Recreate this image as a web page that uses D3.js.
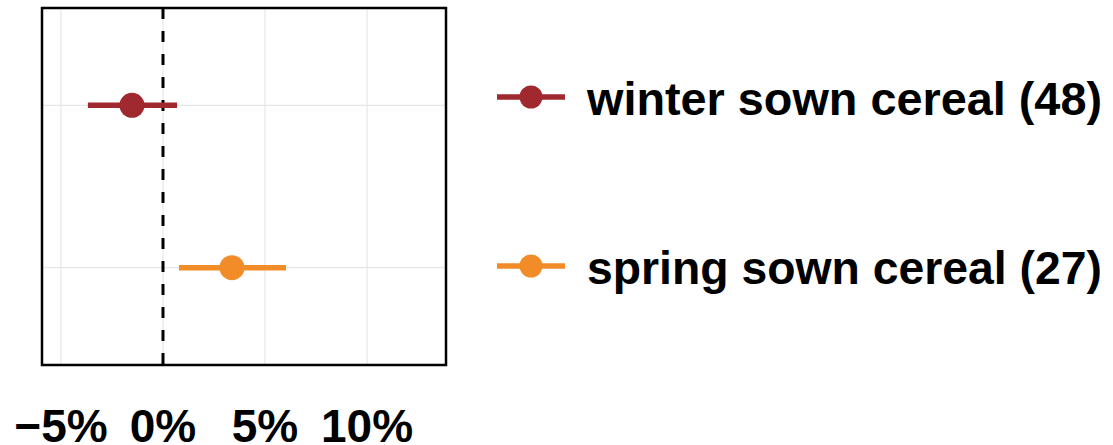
<!DOCTYPE html>
<html>
<head>
<meta charset="utf-8">
<script src="https://cdn.jsdelivr.net/npm/d3@7"></script>
<style>
  html, body { margin: 0; padding: 0; background: #ffffff; }
  svg { display: block; }
  text { font-family: "Liberation Sans", Arial, sans-serif; font-weight: bold; fill: #000; }
</style>
</head>
<body>
<svg id="chart" width="1113" height="445"></svg>
<script>
// Crop groups with sample counts
const categories = ["winter sown cereal", "spring sown cereal"];
const counts = [48, 27];
// Effect estimate and interval bounds (percent change)
const estimates = [-1.52, 3.38];
const lower = [-3.68, 0.78];
const upper = [0.69, 6.03];
const colors = ["#a0282f", "#f28c28"];
const xTicks = [-5, 0, 5, 10];

const svg = d3.select("#chart");
const panel = { left: 42, right: 446, top: 8, bottom: 365 };

const x = d3.scaleLinear().domain([-5.93, 13.87]).range([panel.left, panel.right]);
const y = d3.scalePoint().domain(categories).range([panel.top, panel.bottom]).padding(0.6);

// grid
const grid = svg.append("g");
grid.selectAll("line.v").data(xTicks).join("line")
  .attr("x1", d => x(d)).attr("x2", d => x(d))
  .attr("y1", panel.top).attr("y2", panel.bottom)
  .attr("stroke", "#e6e6e6").attr("stroke-width", 1.2);
grid.selectAll("line.h").data(categories).join("line")
  .attr("x1", panel.left).attr("x2", panel.right)
  .attr("y1", d => y(d)).attr("y2", d => y(d))
  .attr("stroke", "#e6e6e6").attr("stroke-width", 1.2);

// reference line at zero
svg.append("line")
  .attr("x1", x(0)).attr("x2", x(0))
  .attr("y1", panel.top).attr("y2", panel.bottom)
  .attr("stroke", "#000").attr("stroke-width", 3)
  .attr("stroke-dasharray", "11,12");

// intervals and points
const rows = categories.map((c, i) => ({ c, est: estimates[i], lo: lower[i], hi: upper[i], col: colors[i], n: counts[i] }));
const marks = svg.append("g");
marks.selectAll("line").data(rows).join("line")
  .attr("x1", d => x(d.lo)).attr("x2", d => x(d.hi))
  .attr("y1", d => y(d.c)).attr("y2", d => y(d.c))
  .attr("stroke", d => d.col).attr("stroke-width", 5.5);
marks.selectAll("circle").data(rows).join("circle")
  .attr("cx", d => x(d.est)).attr("cy", d => y(d.c))
  .attr("r", 12.5).attr("fill", d => d.col);

// panel border
svg.append("rect")
  .attr("x", panel.left).attr("y", panel.top)
  .attr("width", panel.right - panel.left).attr("height", panel.bottom - panel.top)
  .attr("fill", "none").attr("stroke", "#000").attr("stroke-width", 2.5);

// x axis labels
const fmt = d => (d < 0 ? "\u2212" + Math.abs(d) : d) + "%";
svg.append("g").selectAll("text").data(xTicks).join("text")
  .attr("x", d => x(d)).attr("y", 442)
  .attr("text-anchor", "middle")
  .attr("font-size", 46)
  .text(fmt);

// legend
const legendY = [97, 266];
const leg = svg.append("g").selectAll("g").data(rows).join("g")
  .attr("transform", (d, i) => `translate(0,${legendY[i]})`);
leg.append("line")
  .attr("x1", 497).attr("x2", 565).attr("y1", 0).attr("y2", 0)
  .attr("stroke", d => d.col).attr("stroke-width", 5.5);
leg.append("circle")
  .attr("cx", 531).attr("cy", 0).attr("r", 11.5).attr("fill", d => d.col);
leg.append("text")
  .attr("x", 587).attr("y", 18)
  .attr("font-size", 46)
  .attr("textLength", 515).attr("lengthAdjust", "spacingAndGlyphs")
  .text(d => `${d.c} (${d.n})`);
</script>
</body>
</html>
